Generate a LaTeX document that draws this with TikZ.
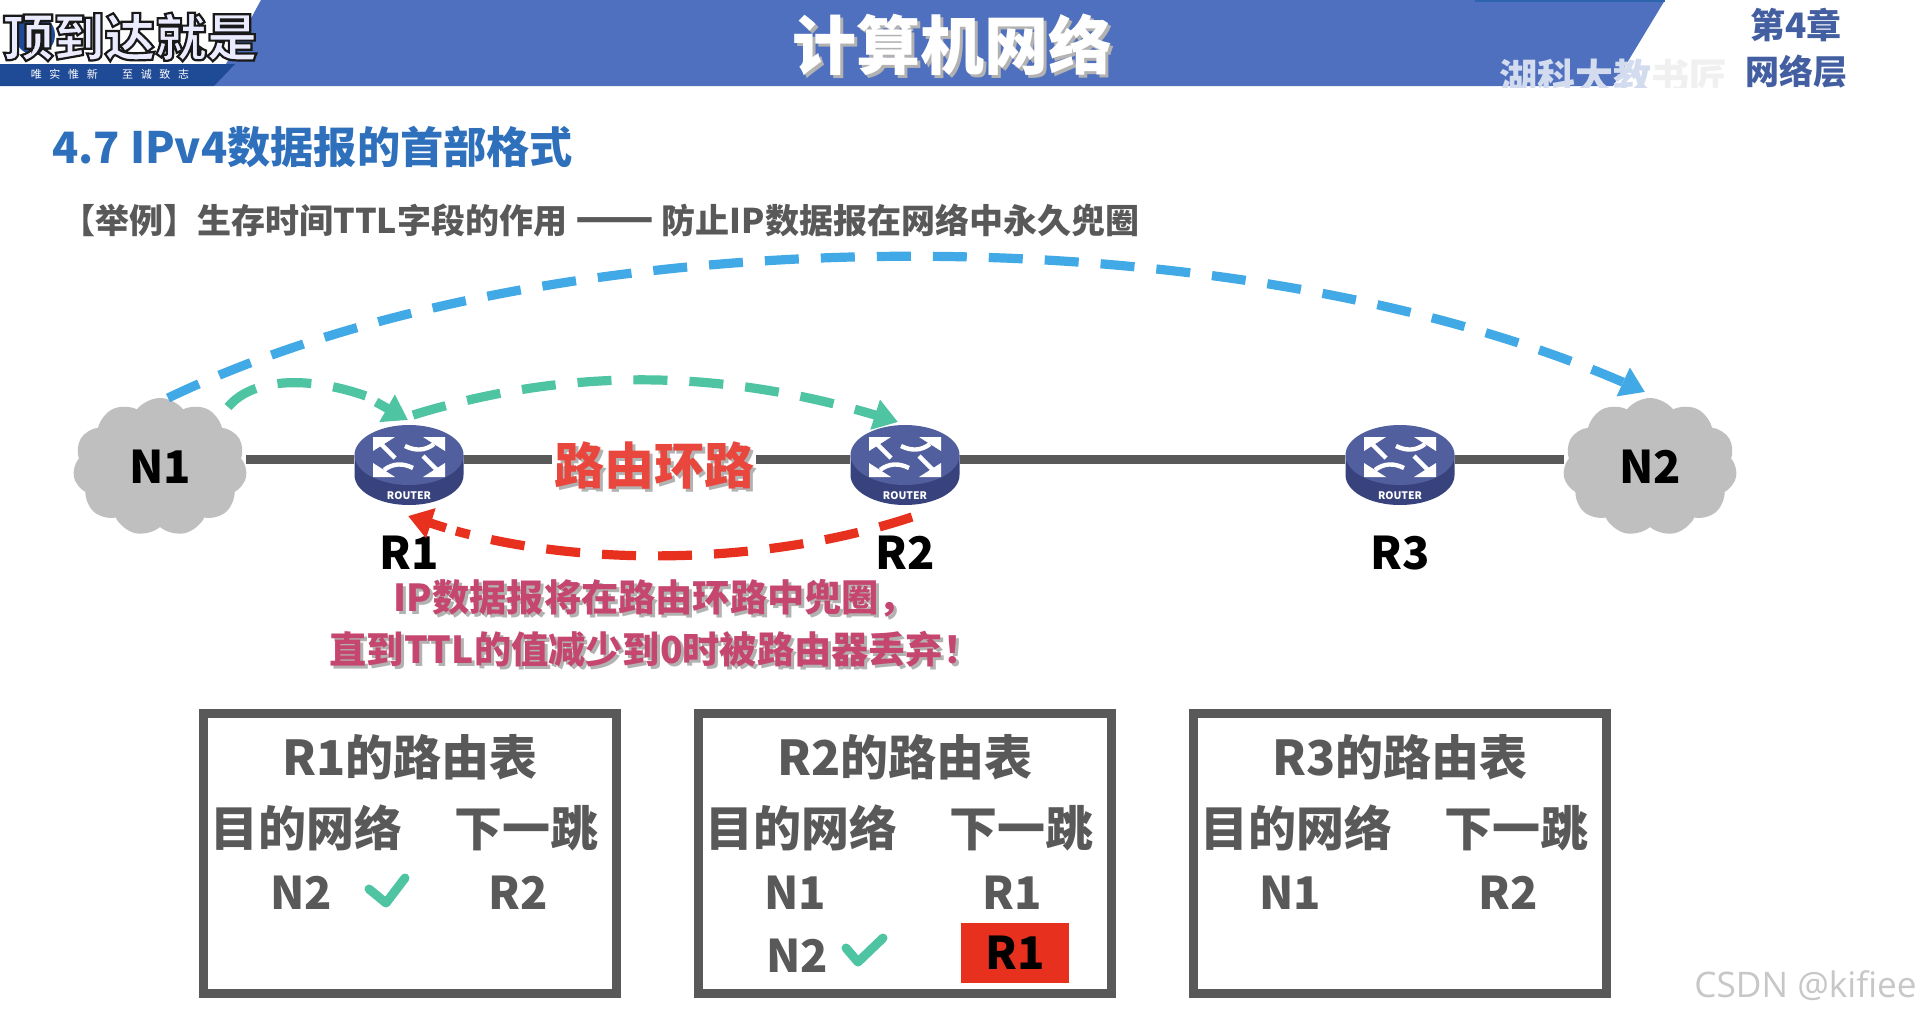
\documentclass[tikz,border=0pt]{standalone}
\usepackage{fontspec}
\setmainfont{Noto Sans CJK SC}
\newfontfamily\plainsans{Open Sans}
\usetikzlibrary{arrows.meta,bending,shapes.symbols,shapes.geometric}
\definecolor{hdrblue}{HTML}{4F70BE}
\definecolor{hdrdark}{HTML}{2E63AE}
\definecolor{navy}{HTML}{1F4A96}
\definecolor{headblue}{HTML}{2E70BC}
\definecolor{txtgray}{HTML}{595959}
\definecolor{cloudgray}{HTML}{BFBFBF}
\definecolor{netblue}{HTML}{41A9E6}
\definecolor{netgreen}{HTML}{4EC4A2}
\definecolor{netred}{HTML}{E8301E}
\definecolor{loopred}{HTML}{E9473D}
\definecolor{pink}{HTML}{C5476F}
\definecolor{rtop}{HTML}{525F9E}
\definecolor{rside}{HTML}{38427C}
\newcommand\fsz[1]{\fontsize{#1}{#1}\selectfont}
\newcommand\shadowtxt[5]{% x y color size text
  \node[text=black!30,font=\bfseries\fsz{#4}] at (#1+3,#2+3) {#5};
  \node[text=#3,font=\bfseries\fsz{#4}] at (#1,#2) {#5};}
\newcommand\routerpic[1]{%
 \begin{scope}[shift={(#1)}]
  \fill[rside] (-54.5,-10) -- (-54.5,10) arc[start angle=180,end angle=0,x radius=54.5,y radius=30] -- (54.5,-10) -- cycle;
  \fill[rtop] (0,-10) ellipse[x radius=54.5,y radius=30];
  \begin{scope}[shift={(0,-8)}]
   % top right
   \fill[white] (36,-20) -- (14,-20) -- (36,-6) -- cycle;
   \draw[white,line width=2.2pt] (25,-13) .. controls (16,-6) and (6,-6) .. (-4,-11);
   % bottom left
   \fill[white] (-36,20) -- (-14,20) -- (-36,6) -- cycle;
   \draw[white,line width=2.2pt] (-25,13) .. controls (-16,6) and (-6,6) .. (4,11);
   % top left
   \fill[white] (-36,-20) -- (-14,-20) -- (-36,-6) -- cycle;
   \draw[white,line width=2.2pt] (-28,-13) -- (-14,1);
   % bottom right
   \fill[white] (36,20) -- (14,20) -- (36,6) -- cycle;
   \draw[white,line width=2.2pt] (28,13) -- (14,-1);
  \end{scope}
  \node[text=white,font=\bfseries\fsz{5.2},inner sep=0pt] at (0,31) {ROUTER};
 \end{scope}}
\tikzset{
 x=0.5pt,y=-0.5pt,
 cloudnode/.style={cloud,cloud puffs=11,cloud puff arc=105,aspect=1.25,fill=cloudgray,inner sep=0pt,minimum width=87pt,minimum height=69pt,font=\bfseries\fsz{22.5},text=black},
 routerbox/.style={inner sep=0pt,minimum width=55pt,minimum height=40pt},
 link/.style={draw=txtgray,line width=4.5pt},
 flow/.style={line width=4.6pt,dash pattern=on 17pt off 11pt},
 flowtip/.style={line width=4.6pt,-{Triangle[length=12pt,width=15pt,flex=0]}},
 rlabel/.style={font=\bfseries\fsz{22.5},text=black},
 tablebox/.style={draw=txtgray,line width=4.5pt,inner sep=0pt,minimum width=206.5pt,minimum height=140pt},
 tabtitle/.style={font=\bfseries\fsz{24},text=txtgray},
 tabhead/.style={font=\bfseries\fsz{24},text=txtgray},
 tabcell/.style={font=\bfseries\fsz{22.5},text=txtgray},
 check/.style={draw=netgreen,line width=4.5pt,line cap=round,line join=round},
}
\begin{document}
\begin{tikzpicture}
\useasboundingbox (0,0) rectangle (1920,1018);
\fill[white] (0,0) rectangle (1920,1018);
% header
\fill[hdrblue] (261,0) -- (1665,0) -- (1613,86) -- (214,86) -- cycle;
\fill[hdrdark] (1475,0) rectangle (1665,2);
\fill[navy] (0,64) -- (235,64) -- (214,86) -- (0,86) -- cycle;
\fill[navy] (35,35) circle[radius=20];
\node[text=white,font=\fsz{5.5}] (motto) at (110,74) {唯\hspace{.7em}实\hspace{.7em}惟\hspace{.7em}新\hspace{2.2em}至\hspace{.7em}诚\hspace{.7em}致\hspace{.7em}志};
\begin{scope}
 \clip (0,0) rectangle (300,86);
 \node[text=white!92!blue,font=\bfseries\fsz{25.5}] (logo) at (130,37) {\special{pdf:code 2 Tr 1.1 w 0.1 0.1 0.1 RG}顶到达就是\special{pdf:code 0 Tr 0 0 0 RG}};
\end{scope}
\shadowtxt{952}{45}{white}{32}{计算机网络}
\begin{scope}
 \clip (0,0) rectangle (1920,87);
 \node[anchor=west,text=hdrblue!25,font=\bfseries\fsz{19}] (school) at (1492,77) {湖科大教\textcolor{black!6}{书匠}};
\end{scope}
\node[text=hdrblue!85!black,font=\bfseries\fsz{17.5}] (chap) at (1796,25) {第4章};
\node[text=hdrblue!85!black,font=\bfseries\fsz{17}] (layer) at (1796,72) {网络层};
% headings
\node[anchor=west,text=headblue,font=\bfseries\fsz{21.6},inner sep=0pt] (head) at (52,147) {4.7 IPv4数据报的首部格式};
\node[anchor=west,text=txtgray,font=\bfseries\fsz{17},inner sep=0pt] (sub) at (61,220) {【举例】生存时间TTL字段的作用 {\fsz{23}——} 防止IP数据报在网络中永久兜圈};
% network
\node[cloudnode] (n1) at (160,467) {N1};
\node[cloudnode] (n2) at (1650,467) {N2};
\node[routerbox] (r1) at (409,465) {};
\node[routerbox] (r2) at (905,465) {};
\node[routerbox] (r3) at (1400,465) {};
\path[link] (n1.east |- 0,459) -- (r1.west |- 0,459);
\path[link] (r1.east |- 0,459) -- (r2.west |- 0,459);
\path[link] (r2.east |- 0,459) -- (r3.west |- 0,459);
\path[link] (r3.east |- 0,459) -- (n2.west |- 0,459);
\routerpic{r1}
\routerpic{r2}
\routerpic{r3}
\node[fill=white,inner sep=1pt,minimum height=20pt,text=white,font=\bfseries\fsz{25}] (loop) at (654,465) {路由环路};
\node[text=black!30,font=\bfseries\fsz{25}] at (657,468) {路由环路};
\node[text=loopred,font=\bfseries\fsz{25}] at (654,465) {路由环路};
\node[rlabel] (l1) at (409,553) {R1};
\node[rlabel] (l2) at (905,553) {R2};
\node[rlabel] (l3) at (1400,553) {R3};
% flows
\coordinate (ba) at (168,398); \coordinate (bb) at (1645,392);
\coordinate (ga) at (228,407); \coordinate (gb) at (408,420);
\coordinate (gbb) at (376,402); \coordinate (gbc) at (366,396);
\coordinate (gc) at (413,415); \coordinate (gd) at (898,422);
\coordinate (ra) at (912,517); \coordinate (rb) at (408,516);
\coordinate (rbb) at (446,528); \coordinate (rbc) at (456,531);
\draw[flow,draw=netblue,-{Triangle[length=12pt,width=15pt,flex=0]}] (ba) .. controls (560,210) and (1250,210) .. (bb);
\draw[flow,draw=netgreen] (ga) .. controls (255,375) and (315,378) .. (gbc);
\draw[flowtip,draw=netgreen] (gbb) -- (gb);
\draw[flow,draw=netgreen,-{Triangle[length=12pt,width=15pt,flex=0]}] (gc) .. controls (570,367) and (726,367) .. (gd);
\draw[flow,draw=netred] (ra) .. controls (770,564) and (590,568) .. (rbc);
\draw[flowtip,draw=netred] (rbb) -- (rb);
% note
\shadowtxt{655}{598}{pink}{18.6}{IP数据报将在路由环路中兜圈，}
\shadowtxt{655}{649}{pink}{18.6}{直到TTL的值减少到0时被路由器丢弃！}
% tables
\node[tablebox] (t1) at (410,853.5) {};
\node[tablebox] (t2) at (905,853.5) {};
\node[tablebox] (t3) at (1400,853.5) {};
\node[tabtitle] (t1a) at (410,757) {R1的路由表};
\node[tabtitle] (t2a) at (905,757) {R2的路由表};
\node[tabtitle] (t3a) at (1400,757) {R3的路由表};
\node[tabhead] (t1b) at (306,828) {目的网络};
\node[tabhead] (t1c) at (526,828) {下一跳};
\node[tabhead] (t2b) at (801,828) {目的网络};
\node[tabhead] (t2c) at (1021,828) {下一跳};
\node[tabhead] (t3b) at (1296,828) {目的网络};
\node[tabhead] (t3c) at (1516,828) {下一跳};
\node[tabcell] (c1a) at (301,893) {N2};
\node[tabcell] (c1b) at (518,893) {R2};
\node[tabcell] (c2a) at (795,893) {N1};
\node[tabcell] (c2b) at (1012,893) {R1};
\node[tabcell] (c2c) at (797,956) {N2};
\node[fill=netred,inner sep=0pt,minimum width=54pt,minimum height=30pt,font=\bfseries\fsz{22.5},text=black] (c2d) at (1015,953) {R1};
\node[tabcell] (c3a) at (1290,893) {N1};
\node[tabcell] (c3b) at (1508,893) {R2};
\draw[check] (369,889) -- (386,903) -- (405,878);
\draw[check] (846,948) -- (858,962) -- (883,938);
% watermark
\node[anchor=east,text=black!22,font=\plainsans\fsz{17.6},inner sep=0pt] (mark) at (1917,986) {CSDN @kifiee};
\end{tikzpicture}
\end{document}
